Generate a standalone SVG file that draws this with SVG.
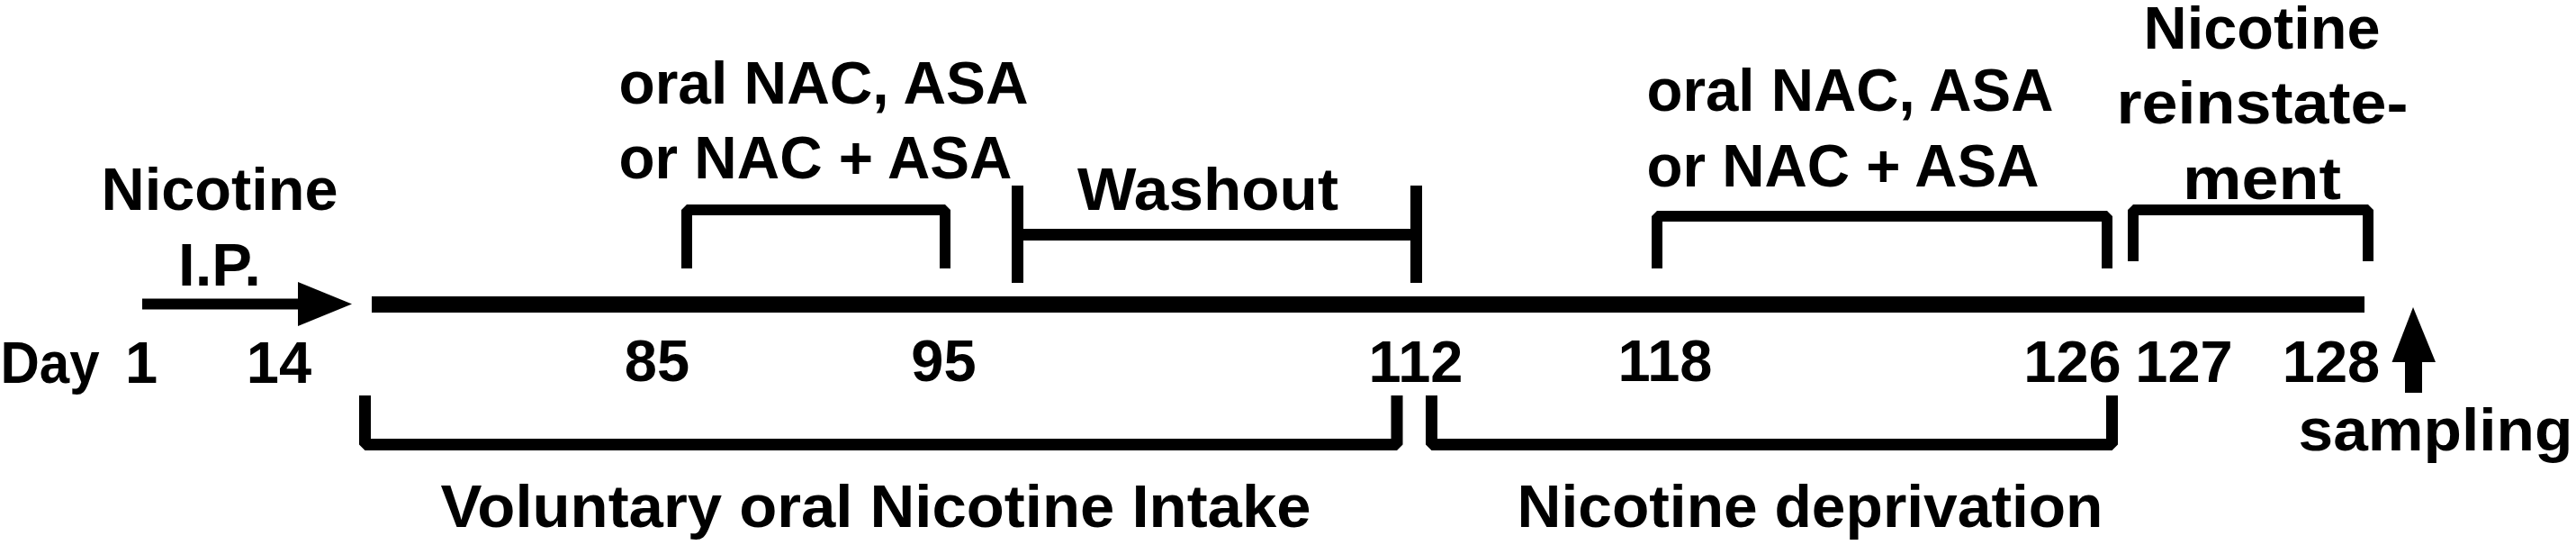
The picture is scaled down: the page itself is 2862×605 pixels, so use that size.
<svg xmlns="http://www.w3.org/2000/svg" width="2862" height="605" viewBox="0 0 2862 605">
<style>
text{font-family:"Liberation Sans",Arial,sans-serif;font-weight:bold;fill:#000;text-anchor:middle}
.lbl{font-size:66px}
.num{font-size:65px}
.br{fill:none;stroke:#000;stroke-width:12;stroke-linejoin:bevel}
.bb{fill:none;stroke:#000;stroke-width:13;stroke-linejoin:bevel}
</style>
<rect width="2862" height="605" fill="#fff"/>
<g id="connectors">
<line id="timeline" x1="413" y1="338" x2="2627" y2="338" stroke="#000" stroke-width="18"/>
<g id="ip-arrow">
<line x1="158" y1="337.5" x2="333" y2="337.5" stroke="#000" stroke-width="12"/>
<polygon points="331,313 391,337.5 331,362" fill="#000"/>
</g>
<g id="sampling-arrow">
<line x1="2681.5" y1="436" x2="2681.5" y2="398" stroke="#000" stroke-width="19"/>
<polygon points="2657.5,402 2681,341 2706,402" fill="#000"/>
</g>
</g>
<g id="treatment1">
<path class="br" d="M763,298 V233 H1050 V298"/>
<text class="lbl" x="915" y="115" font-size="68" textLength="455" lengthAdjust="spacingAndGlyphs">oral NAC, ASA</text>
<text class="lbl" x="906" y="198" font-size="68" textLength="437" lengthAdjust="spacingAndGlyphs">or NAC + ASA</text>
</g>
<g id="washout">
<line x1="1130.5" y1="206" x2="1130.5" y2="314" stroke="#000" stroke-width="13"/>
<line x1="1130.5" y1="260.5" x2="1573.5" y2="260.5" stroke="#000" stroke-width="13"/>
<line x1="1573.5" y1="206" x2="1573.5" y2="314" stroke="#000" stroke-width="13"/>
<text class="lbl" x="1342" y="233" font-size="68" textLength="290" lengthAdjust="spacingAndGlyphs">Washout</text>
</g>
<g id="treatment2">
<path class="br" d="M1841,298 V240 H2341 V298"/>
<text class="lbl" x="2055.5" y="123" font-size="67" textLength="452" lengthAdjust="spacingAndGlyphs">oral NAC, ASA</text>
<text class="lbl" x="2047.5" y="207" font-size="67" textLength="436" lengthAdjust="spacingAndGlyphs">or NAC + ASA</text>
</g>
<g id="reinstatement">
<path class="br" d="M2370,290 V233 H2631 V290"/>
<text class="lbl" x="2513" y="53.5" font-size="64" textLength="263" lengthAdjust="spacingAndGlyphs">Nicotine</text>
<text class="lbl" x="2513.5" y="137" font-size="65" textLength="324" lengthAdjust="spacingAndGlyphs">reinstate-</text>
<text class="lbl" x="2513" y="220.5" font-size="65" textLength="176" lengthAdjust="spacingAndGlyphs">ment</text>
</g>
<g id="nicotine-ip">
<text class="lbl" x="244" y="233" font-size="65" textLength="263" lengthAdjust="spacingAndGlyphs">Nicotine</text>
<text class="lbl" x="244" y="317" font-size="57" textLength="92" lengthAdjust="spacingAndGlyphs">I.P.</text>
</g>
<g id="voluntary-intake">
<path class="bb" d="M405.5,439 V493.5 H1552 V439"/>
<text class="lbl" x="973" y="585" textLength="967" lengthAdjust="spacingAndGlyphs">Voluntary oral Nicotine Intake</text>
</g>
<g id="deprivation">
<path class="bb" d="M1590.5,439 V493.5 H2346.5 V439"/>
<text class="lbl" x="2011" y="585" textLength="651" lengthAdjust="spacingAndGlyphs">Nicotine deprivation</text>
</g>
<g id="sampling">
<text class="lbl" x="2706" y="500" font-size="67" textLength="305" lengthAdjust="spacingAndGlyphs">sampling</text>
</g>
<g id="days">
<text class="num" x="55.5" y="425" textLength="110" lengthAdjust="spacingAndGlyphs">Day</text>
<text class="num" x="157" y="425">1</text>
<text class="num" x="310" y="425">14</text>
<text class="num" x="730" y="423">85</text>
<text class="num" x="1048.5" y="423">95</text>
<text class="num" x="1573" y="424">112</text>
<text class="num" x="1850" y="423">118</text>
<text class="num" x="2302.5" y="424">126</text>
<text class="num" x="2426.5" y="424">127</text>
<text class="num" x="2590" y="424">128</text>
</g>
</svg>
